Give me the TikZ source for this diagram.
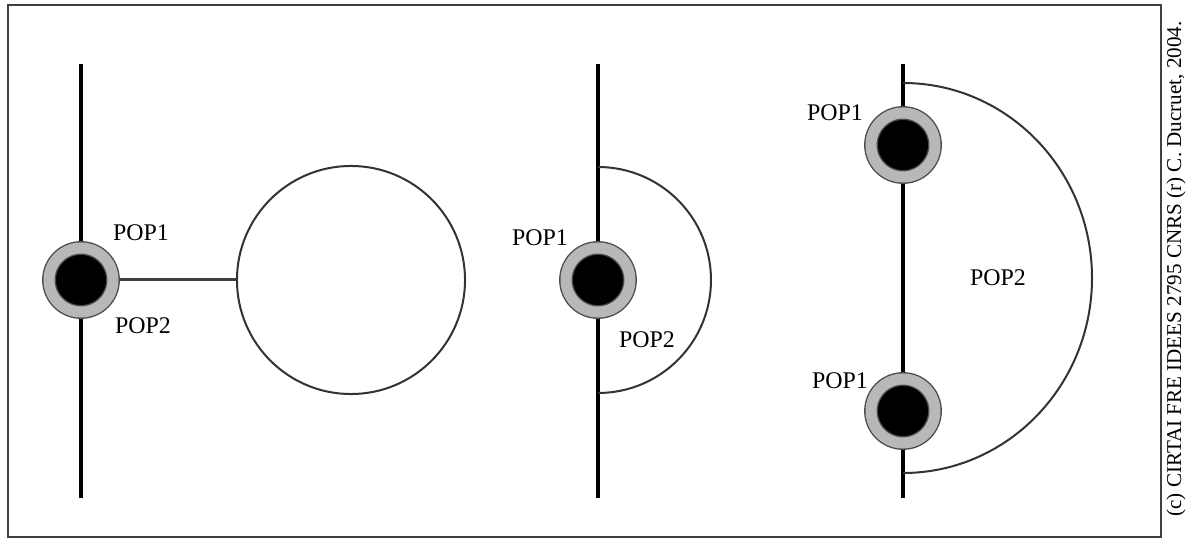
\documentclass[tikz,border=0pt]{standalone}
\usepackage{fontspec}
\setmainfont{Liberation Serif}
\usetikzlibrary{backgrounds}
\tikzset{
    pop/.style={circle,draw=black!70,double=black!28,double distance=0.275cm,
        line width=0.035cm,fill=black,minimum size=1.6cm,inner sep=0pt},
    asse/.style={black,line width=0.09cm},
    bordo/.style={draw=black!80,line width=0.05cm},
    lbl/.style={font=\fontsize{17}{20}\selectfont,inner sep=0pt}
}
\begin{document}
\begin{tikzpicture}[x=0.025cm,y=0.025cm]
        \useasboundingbox (0,0) rectangle (1191,539);
        \draw[black!75,line width=0.07cm] (8,534) rectangle (1161,2);
        %nodi
        \node[pop] (popA) at (81,259) {};
        \node[pop] (popB) at (598,259) {};
        \node[pop] (popC1) at (903,394) {};
        \node[pop] (popC2) at (903,128) {};
        \node[circle,bordo,minimum size=5.7cm,inner sep=0pt] (zona) at (351,259) {};
        %assi
        \coordinate (topA) at (81,475);
        \coordinate (botA) at (81,41);
        \coordinate (topB) at (598,475);
        \coordinate (botB) at (598,41);
        \coordinate (topC) at (903,475);
        \coordinate (botC) at (903,41);
        \begin{scope}[on background layer]
        \draw[asse] (topA)--(botA);
        \draw[asse] (topB)--(botB);
        \draw[asse] (topC)--(botC);
        \draw[black!75,line width=0.075cm] (popA)--(zona);
        \end{scope}
        %archi
        \coordinate (arcB) at (598,372);
        \coordinate (arcC) at (903,456);
        \draw[bordo] (arcB) arc[start angle=90,end angle=-90,radius=113];
        \draw[bordo] (arcC) arc[start angle=90,end angle=-90,x radius=189,y radius=195];
        %etichette
        \node[lbl] (labA1) at (141,306) {POP1};
        \node[lbl] (labA2) at (143,213) {POP2};
        \node[lbl] (labB1) at (540,301) {POP1};
        \node[lbl] (labB2) at (647,199) {POP2};
        \node[lbl] (labC1) at (835,426) {POP1};
        \node[lbl] (labC2) at (840,158) {POP1};
        \node[lbl] (labC3) at (998,261) {POP2};
        \node[rotate=90,font=\fontsize{15}{18}\selectfont,inner sep=0pt] (copy) at (1176,270)
            {(c) CIRTAI FRE IDEES 2795 CNRS (r) C. Ducruet, 2004.};
    \end{tikzpicture}
\end{document}
